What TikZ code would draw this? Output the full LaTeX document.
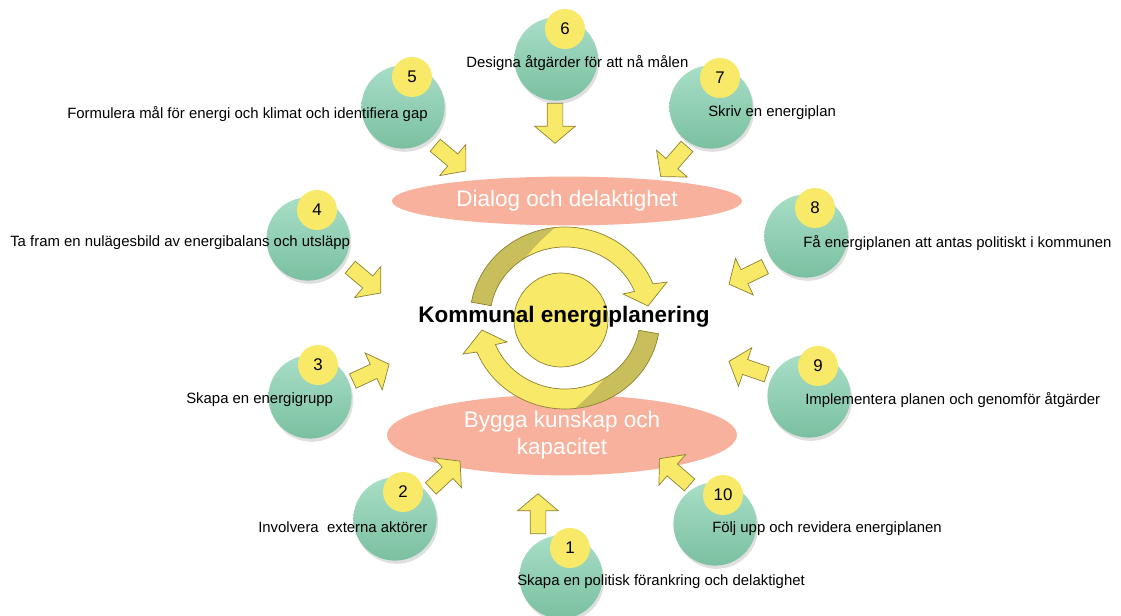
\documentclass[tikz,border=0pt]{standalone}
\usepackage{fontspec}
\setmainfont{Liberation Sans}
\usetikzlibrary{shapes.geometric}
\usetikzlibrary{shapes.arrows}
\usetikzlibrary{shadows}
\usetikzlibrary{positioning}
\definecolor{mint-top}{RGB}{168, 222, 199}
\definecolor{mint-bottom}{RGB}{122, 192, 160}
\definecolor{sun}{RGB}{249, 233, 104}
\definecolor{olive-line}{RGB}{140, 130, 50}
\definecolor{olive-dark}{RGB}{201, 190, 92}
\definecolor{salmon}{RGB}{247, 177, 156}

\begin{document}
\begin{tikzpicture}[x=0.025cm, y=0.025cm,
    font=\fontsize{10.6}{12.7}\selectfont,
    stepcircle/.style={circle, minimum size=2.08cm, inner sep=0pt,
        top color=mint-top, bottom color=mint-bottom,
        drop shadow={opacity=0.25, shadow xshift=0.4mm, shadow yshift=-0.8mm}},
    stepnum/.style={circle, minimum size=1cm, inner sep=0pt, fill=sun,
        font=\fontsize{12}{14}\selectfont},
    steptext/.style={anchor=west, inner sep=0pt},
    blockarrow/.style={single arrow, draw=olive-line, fill=sun, line width=0.5pt,
        minimum height=1cm, inner xsep=0pt, inner ysep=0.1875cm,
        single arrow head extend=0.3125cm, single arrow tip angle=100},
    theme/.style={ellipse, fill=salmon, text=white, align=center,
        font=\fontsize{16}{19}\selectfont}]
  \useasboundingbox (0,0) rectangle (1121,-616);

  % the two themes
  \node[theme, minimum width=8.75cm, minimum height=1.22cm] (dialog) at (567,-201) {Dialog och delaktighet};
  \node[theme, minimum width=8.75cm, minimum height=1.38cm] (kunskap) at (562,-435) {Bygga kunskap och\\kapacitet};

  % the cycle in the middle
  \foreach \turn in {0,180} {
    \begin{scope}[shift={(565,-318)}, rotate=\turn]
      \fill[sun] (170:95 and 91) arc[start angle=170, end angle=22, x radius=95, y radius=91]
        -- (102,36) -- (83,12) -- (58,24) -- (22:75 and 71)
        arc[start angle=22, end angle=170, x radius=75, y radius=71] -- cycle;
      \fill[olive-dark] (170:95 and 91) arc[start angle=170, end angle=96, x radius=95, y radius=91]
        .. controls (108:84 and 80) .. (122:75 and 71)
        arc[start angle=122, end angle=170, x radius=75, y radius=71] -- cycle;
      \draw[olive-line, line width=0.5pt] (170:95 and 91) arc[start angle=170, end angle=22, x radius=95, y radius=91]
        -- (102,36) -- (83,12) -- (58,24) -- (22:75 and 71)
        arc[start angle=22, end angle=170, x radius=75, y radius=71] -- cycle;
    \end{scope}
  }
  \node[circle, minimum size=2.35cm, fill=sun, draw=olive-line, line width=0.5pt] (hub) at (561,-320) {};
  \node[font=\fontsize{16}{19}\selectfont\bfseries] (title) at (564,-317) {Kommunal energiplanering};

  % steps
  \node[stepcircle] (c1) at (561,-577) {};
  \node[stepcircle] (c2) at (395,-519) {};
  \node[stepcircle] (c3) at (310,-397) {};
  \node[stepcircle] (c4) at (308,-239) {};
  \node[stepcircle] (c5) at (403,-107) {};
  \node[stepcircle] (c6) at (556,-59) {};
  \node[stepcircle] (c7) at (711,-107) {};
  \node[stepcircle] (c8) at (806,-236) {};
  \node[stepcircle] (c9) at (809,-396) {};
  \node[stepcircle] (c10) at (715,-524) {};

  \node[stepnum] (n1) at (570,-548) {1};
  \node[stepnum] (n2) at (403,-492) {2};
  \node[stepnum] (n3) at (318,-365) {3};
  \node[stepnum] (n4) at (317,-210) {4};
  \node[stepnum] (n5) at (412,-77) {5};
  \node[stepnum] (n6) at (565,-29) {6};
  \node[stepnum] (n7) at (720,-78) {7};
  \node[stepnum] (n8) at (815,-208) {8};
  \node[stepnum] (n9) at (818,-366) {9};
  \node[stepnum] (n10) at (723,-495) {10};

  \node[steptext] (t1) at (517,-582) {Skapa en politisk förankring och delaktighet};
  \node[steptext] (t2) at (258,-527) {Involvera\ \ externa aktörer};
  \node[steptext] (t3) at (186,-400) {Skapa en energigrupp};
  \node[steptext] (t4) at (10,-243) {Ta fram en nulägesbild av energibalans och utsläpp};
  \node[steptext] (t5) at (67,-114) {Formulera mål för energi och klimat och identifiera gap};
  \node[steptext] (t6) at (466,-63) {Designa åtgärder för att nå målen};
  \node[steptext] (t7) at (708,-113) {Skriv en energiplan};
  \node[steptext] (t8) at (803,-243) {Få energiplanen att antas politiskt i kommunen};
  \node[steptext] (t9) at (805,-400) {Implementera planen och genomför åtgärder};
  \node[steptext] (t10) at (712,-529) {Följ upp och revidera energiplanen};

  % arrows towards the middle
  \node[blockarrow, rotate=90] (a1) at (538,-517) {};
  \node[blockarrow, rotate=43] (a2) at (443,-477) {};
  \node[blockarrow, rotate=25] (a3) at (368,-374) {};
  \node[blockarrow, rotate=-40] (a4) at (363,-278) {};
  \node[blockarrow, rotate=-40] (a5) at (448,-156) {};
  \node[blockarrow, rotate=-90] (a6) at (555,-120) {};
  \node[blockarrow, rotate=229] (a7) at (676,-159) {};
  \node[blockarrow, rotate=206] (a8) at (750,-274) {};
  \node[blockarrow, rotate=161] (a9) at (751,-369) {};
  \node[blockarrow, rotate=139] (a10) at (677,-474) {};
\end{tikzpicture}
\end{document}
